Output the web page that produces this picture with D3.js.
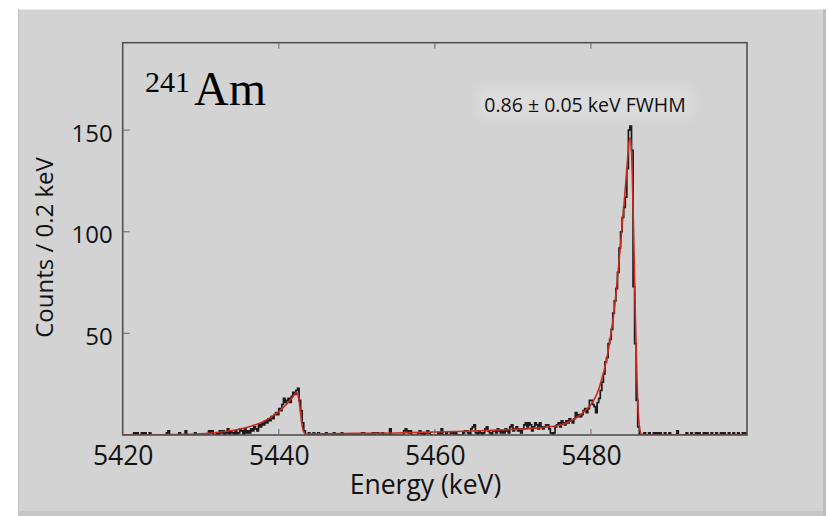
<!DOCTYPE html>
<html>
<head>
<meta charset="utf-8">
<script src="https://cdn.jsdelivr.net/npm/d3@7/dist/d3.min.js"></script>
<style>
  html, body { margin: 0; padding: 0; background: #ffffff; }
  svg { display: block; }
</style>
</head>
<body>
<svg id="chart" width="829" height="516"></svg>
<script>
// ---- Data ----
const binStart = 5420;
const binWidth = 0.2;
const counts = [
  0,0,0,0,0,0,0,1,0,1,0,0,1,0,1,0,0,1,0,0,
  0,0,0,0,0,0,0,0,1,2,0,0,0,0,0,0,1,0,0,0,
  2,0,0,0,0,0,1,0,0,0,0,0,0,0,0,2,1,2,0,0,
  1,0,2,1,2,0,1,3,0,2,1,0,2,0,1,3,2,0,3,1,
  2,1,3,2,4,3,2,5,4,6,5,7,6,8,7,9,8,10,11,10,
  13,12,15,18,16,17,18,16,19,21,20,22,23,17,12,6,2,0,0,1,
  0,0,1,0,0,1,0,0,0,0,1,0,0,0,0,1,0,0,0,0,
  1,0,0,0,0,0,0,0,0,0,0,0,0,1,1,0,0,0,0,0,
  1,0,1,1,0,0,1,0,0,0,0,3,0,0,0,0,0,0,0,0,
  2,3,2,1,2,0,0,0,0,1,2,0,1,0,1,2,1,0,0,0,
  0,0,1,0,3,0,0,1,0,0,1,1,0,1,0,0,0,0,1,2,
  2,1,0,3,4,5,1,0,2,1,0,1,3,4,2,1,0,2,2,1,
  3,2,1,2,1,3,2,1,4,5,2,3,4,2,3,1,3,5,6,4,
  6,5,2,4,6,5,3,6,4,3,4,5,5,3,1,0,1,4,5,6,
  4,7,6,5,7,6,8,7,6,8,11,9,10,9,10,12,13,11,13,17,
  17,15,14,11,16,18,22,26,30,36,38,45,47,52,60,66,72,80,92,100,
  107,112,117,131,150,152,140,73,45,17,4,0,0,0,1,0,0,1,0,0,
  1,0,1,0,1,0,0,1,0,0,1,0,0,0,0,2,0,0,0,0,
  0,1,0,0,1,0,0,1,0,1,0,0,1,0,1,0,0,1,0,0,
  1,0,0,1,0,1,0,0,1,0,0,1,0,0,1,0,0,1,0,1
];
const fitEnergy = [5420,5425,5428,5430,5432,5434,5436,5437,5438,5439,5440,5440.5,5441,5441.5,5442,5442.3,5442.5,5442.7,5442.9,5443.1,5443.3,5443.6,5446,5450,5455,5460,5465,5469,5473,5476,5477,5478,5479,5480,5480.5,5481,5481.5,5482,5482.5,5483,5483.5,5484,5484.4,5484.7,5484.95,5485.1,5485.3,5485.5,5485.7,5485.9,5486.1,5486.3,5486.5,5487,5500];
const fitCounts = [0.05,0.1,0.3,0.6,1.2,2.2,3.8,5,6.5,8.8,11.5,13.2,15.2,17.3,19.8,21,19,14,7,2.5,0.9,0.5,0.6,0.8,1.0,1.5,2.0,2.6,3.4,4.9,6.2,8.2,11,15,18,22.5,29,37,48,62,81,103,121,136,146,146,128,95,58,28,9,2,0.3,0.05,0.05];
const xTicks = [5420, 5440, 5460, 5480];
const yTicks = [50, 100, 150];
const xDomain = [5420, 5500];
const yDomain = [0, 193];
const isotopeMass = "241";
const isotopeName = "Am";
const annotation = "0.86 \u00b1 0.05 keV FWHM";
const xTitle = "Energy (keV)";
const yTitle = "Counts / 0.2 keV";

// ---- Layout ----
const svg = d3.select("#chart");
const L = 122.7, R = 747, T = 42.7, B = 435;
const x = d3.scaleLinear().domain(xDomain).range([L, R]);
const y = d3.scaleLinear().domain(yDomain).range([B, T]);
const sans = "'Open Sans', 'Noto Sans', sans-serif";

// panel background
svg.append("rect").attr("x", 0).attr("y", 0).attr("width", 829).attr("height", 516).attr("fill", "#ffffff");
svg.append("rect").attr("x", 18).attr("y", 9.5).attr("width", 808).attr("height", 507).attr("fill", "#d3d3d3");
svg.append("rect").attr("x", 18).attr("y", 9.5).attr("width", 1.2).attr("height", 507).attr("fill", "#c4c4c4");
svg.append("rect").attr("x", 18).attr("y", 511).attr("width", 808).attr("height", 5).attr("fill", "#c6c6c6");
svg.append("rect").attr("x", 823).attr("y", 9.5).attr("width", 3).attr("height", 507).attr("fill", "#bdbdbd");

// soft halo filter
const defs = svg.append("defs");
defs.append("filter").attr("id", "soft").attr("x", "-20%").attr("y", "-50%").attr("width", "140%").attr("height", "200%")
  .append("feGaussianBlur").attr("stdDeviation", 5);

// clip
defs.append("clipPath").attr("id", "plotclip")
  .append("rect").attr("x", L).attr("y", T).attr("width", R - L).attr("height", B - T);

// annotation halo
svg.append("rect").attr("x", 478).attr("y", 88).attr("width", 214).attr("height", 30)
  .attr("fill", "#dcdcdc").attr("filter", "url(#soft)");

// histogram
const histPts = counts.map((c, i) => [binStart + i * binWidth, c]);
histPts.push([binStart + counts.length * binWidth, counts[counts.length - 1]]);
const stepLine = d3.line().x(d => x(d[0])).y(d => y(d[1])).curve(d3.curveStepAfter);
svg.append("path").datum(histPts)
  .attr("clip-path", "url(#plotclip)")
  .attr("d", stepLine)
  .attr("fill", "none").attr("stroke", "#1a1a1a").attr("stroke-width", 1.7);

// fit
const fitPts = fitEnergy.map((e, i) => [e, fitCounts[i]]);
const fitLine = d3.line().x(d => x(d[0])).y(d => y(d[1])).curve(d3.curveMonotoneX);
svg.append("path").datum(fitPts)
  .attr("clip-path", "url(#plotclip)")
  .attr("d", fitLine)
  .attr("fill", "none").attr("stroke", "#cc2a1e").attr("stroke-width", 1.6);

// frame
svg.append("rect").attr("x", L).attr("y", T).attr("width", R - L).attr("height", B - T)
  .attr("fill", "none").attr("stroke", "#505050").attr("stroke-width", 1.6);

// x axis (ticks inward)
const xAxis = d3.axisBottom(x).tickValues(xTicks).tickSize(0).tickPadding(0).tickFormat(d3.format("d"));
const gx = svg.append("g").attr("transform", `translate(0,${B})`).call(xAxis);
gx.select(".domain").remove();
gx.selectAll(".tick text").attr("y", 30).attr("dy", 0)
  .attr("font-family", sans).attr("font-size", 26.5).attr("fill", "#111");
xTicks.filter(v => v > xDomain[0]).forEach(v => {
  svg.append("line").attr("x1", x(v)).attr("x2", x(v)).attr("y1", B).attr("y2", B - 6)
    .attr("stroke", "#777").attr("stroke-width", 1.2);
  svg.append("line").attr("x1", x(v)).attr("x2", x(v)).attr("y1", T).attr("y2", T + 6)
    .attr("stroke", "#777").attr("stroke-width", 1.2);
});

// y axis
const yAxis = d3.axisLeft(y).tickValues(yTicks).tickSize(0).tickPadding(0).tickFormat(d3.format("d"));
const gy = svg.append("g").attr("transform", `translate(${L},0)`).call(yAxis);
gy.select(".domain").remove();
gy.selectAll(".tick text").attr("x", -10).attr("dy", "0.32em").attr("transform", "translate(0,3.5)")
  .attr("font-family", sans).attr("font-size", 24).attr("fill", "#111");
yTicks.forEach(v => {
  svg.append("line").attr("x1", L).attr("x2", L + 7).attr("y1", y(v)).attr("y2", y(v))
    .attr("stroke", "#777").attr("stroke-width", 1.2);
});

// axis titles
svg.append("text").attr("x", 425.5).attr("y", 494).attr("text-anchor", "middle")
  .attr("font-family", sans).attr("font-size", 26.5).attr("fill", "#111").text(xTitle);
svg.append("text").attr("transform", "translate(53,247.5) rotate(-90)").attr("text-anchor", "middle")
  .attr("font-family", sans).attr("font-size", 24).attr("fill", "#111").text(yTitle);

// isotope label
const iso = svg.append("text").attr("x", 145).attr("y", 105)
  .attr("font-family", "'Liberation Serif', 'Times New Roman', serif").attr("fill", "#000");
iso.append("tspan").attr("font-size", 30).attr("dy", -13).text(isotopeMass);
iso.append("tspan").attr("font-size", 48).attr("dy", 13).attr("dx", 4).text(isotopeName);

// annotation
svg.append("text").attr("x", 585).attr("y", 112).attr("text-anchor", "middle")
  .attr("font-family", sans).attr("font-size", 19.5).attr("fill", "#111").text(annotation);
</script>
</body>
</html>
